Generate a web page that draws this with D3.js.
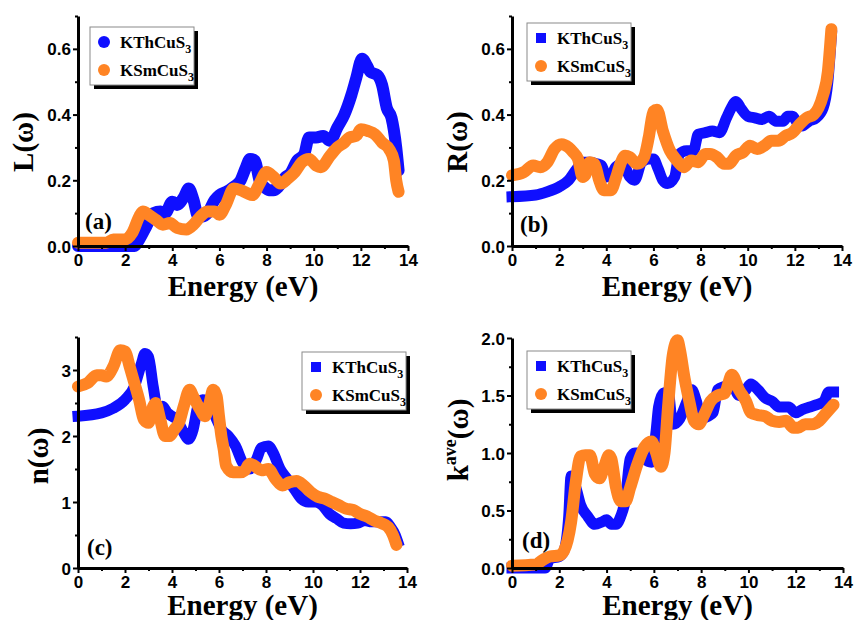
<!DOCTYPE html>
<html>
<head>
<meta charset="utf-8">
<script src="https://cdn.jsdelivr.net/npm/d3@7"></script>
<style>
  body { margin: 0; background: #fff; }
  svg { display: block; }
</style>
</head>
<body>
<svg id="chart" width="855" height="620"></svg>
<script>
const BLUE = '#0f0fff';
const ORANGE = '#ff8424';
const SERIF = '"Liberation Serif", "Times New Roman", serif';
const SANS = '"Liberation Sans", Arial, sans-serif';

const seriesNames = ['KThCuS', 'KSmCuS'];
const energyTicks = [0, 2, 4, 6, 8, 10, 12, 14];

// (a) energy loss L(w)
const lossTh = [[0, 0], [2.0, 0], [2.4, 0], [2.6, 0.02], [2.9, 0.06], [3.2, 0.1], [3.5, 0.105], [3.7, 0.1],
  [4.0, 0.135], [4.2, 0.125], [4.5, 0.15], [4.7, 0.175], [4.9, 0.14], [5.1, 0.09], [5.3, 0.09], [5.5, 0.1],
  [5.8, 0.14], [6.0, 0.155], [6.3, 0.165], [6.6, 0.18], [6.9, 0.2], [7.1, 0.235], [7.3, 0.265], [7.5, 0.26],
  [7.7, 0.2], [7.9, 0.18], [8.1, 0.17], [8.3, 0.17], [8.5, 0.18], [8.8, 0.21], [9.0, 0.22], [9.3, 0.26],
  [9.6, 0.28], [9.8, 0.33], [10.1, 0.33], [10.4, 0.335], [10.7, 0.32], [11.0, 0.36], [11.3, 0.4], [11.6, 0.46],
  [11.8, 0.51], [12.05, 0.57], [12.25, 0.55], [12.4, 0.53], [12.7, 0.52], [12.9, 0.49], [13.1, 0.42],
  [13.3, 0.39], [13.5, 0.3], [13.6, 0.23]];
const lossSm = [[0, 0.01], [1.2, 0.01], [1.5, 0.02], [2.0, 0.02], [2.3, 0.04], [2.6, 0.09], [2.75, 0.105],
  [3.0, 0.095], [3.3, 0.08], [3.6, 0.065], [3.9, 0.07], [4.2, 0.055], [4.6, 0.05], [4.9, 0.065], [5.2, 0.09],
  [5.5, 0.105], [5.8, 0.105], [6.0, 0.095], [6.3, 0.13], [6.6, 0.175], [6.9, 0.17], [7.2, 0.16], [7.4, 0.155],
  [7.7, 0.19], [8.0, 0.225], [8.3, 0.21], [8.6, 0.19], [8.9, 0.205], [9.2, 0.225], [9.5, 0.255], [9.8, 0.265],
  [10.1, 0.245], [10.3, 0.24], [10.7, 0.275], [11.0, 0.3], [11.3, 0.315], [11.5, 0.33], [11.8, 0.335],
  [12.0, 0.355], [12.3, 0.35], [12.6, 0.34], [12.9, 0.315], [13.2, 0.295], [13.4, 0.26], [13.5, 0.2], [13.6, 0.165]];
const lossTicks = [0, 0.2, 0.4, 0.6];

// (b) reflectivity R(w)
const reflTh = [[0, 0.15], [1.0, 0.155], [1.5, 0.165], [2.0, 0.18], [2.4, 0.2], [2.7, 0.23], [3.0, 0.255],
  [3.3, 0.255], [3.6, 0.25], [3.8, 0.245], [4.0, 0.21], [4.2, 0.215], [4.4, 0.24], [4.7, 0.25], [5.0, 0.21],
  [5.2, 0.2], [5.5, 0.255], [5.8, 0.265], [6.0, 0.265], [6.2, 0.235], [6.4, 0.2], [6.6, 0.19], [6.9, 0.21],
  [7.1, 0.28], [7.4, 0.29], [7.7, 0.29], [7.9, 0.34], [8.2, 0.345], [8.5, 0.35], [8.8, 0.345], [9.1, 0.39],
  [9.3, 0.42], [9.5, 0.44], [9.7, 0.42], [10.0, 0.395], [10.3, 0.39], [10.6, 0.385], [10.9, 0.395],
  [11.2, 0.38], [11.5, 0.38], [11.7, 0.395], [11.9, 0.395], [12.1, 0.375], [12.3, 0.365], [12.6, 0.38],
  [12.9, 0.39], [13.2, 0.42], [13.4, 0.5], [13.55, 0.64]];
const reflSm = [[0, 0.215], [0.5, 0.225], [0.9, 0.245], [1.2, 0.24], [1.5, 0.255], [1.8, 0.295], [2.1, 0.31],
  [2.4, 0.3], [2.6, 0.285], [2.8, 0.265], [3.0, 0.21], [3.1, 0.215], [3.3, 0.255], [3.5, 0.25], [3.7, 0.2],
  [3.9, 0.17], [4.2, 0.17], [4.4, 0.205], [4.6, 0.25], [4.8, 0.275], [5.0, 0.27], [5.3, 0.25], [5.6, 0.27],
  [5.8, 0.33], [6.0, 0.41], [6.15, 0.415], [6.4, 0.35], [6.7, 0.29], [7.0, 0.26], [7.3, 0.24], [7.6, 0.26],
  [7.9, 0.255], [8.2, 0.28], [8.4, 0.28], [8.7, 0.27], [9.0, 0.25], [9.2, 0.25], [9.5, 0.275], [9.8, 0.285],
  [10.1, 0.305], [10.4, 0.295], [10.7, 0.305], [11.0, 0.32], [11.3, 0.32], [11.6, 0.335], [11.9, 0.345],
  [12.2, 0.37], [12.5, 0.39], [12.8, 0.4], [13.0, 0.42], [13.2, 0.46], [13.4, 0.53], [13.55, 0.66]];
const reflTicks = [0, 0.2, 0.4, 0.6];

// (c) refractive index n(w)
const indexTh = [[0, 2.3], [1.0, 2.35], [1.5, 2.42], [2.0, 2.55], [2.4, 2.75], [2.7, 3.1], [2.85, 3.25],
  [3.0, 3.2], [3.2, 2.75], [3.4, 2.4], [3.6, 2.45], [3.8, 2.35], [4.0, 2.3], [4.2, 2.25], [4.5, 2.05],
  [4.7, 1.95], [4.9, 2.1], [5.1, 2.45], [5.3, 2.55], [5.6, 2.5], [5.9, 2.25], [6.1, 2.1], [6.4, 2.0],
  [6.7, 1.85], [7.0, 1.6], [7.3, 1.5], [7.6, 1.65], [7.8, 1.82], [8.1, 1.85], [8.3, 1.75], [8.6, 1.5],
  [8.9, 1.35], [9.2, 1.2], [9.5, 1.05], [9.8, 1.0], [10.1, 1.0], [10.4, 0.95], [10.7, 0.82], [11.0, 0.75],
  [11.3, 0.68], [11.6, 0.67], [11.9, 0.68], [12.2, 0.72], [12.5, 0.7], [12.8, 0.7], [13.1, 0.7], [13.3, 0.62],
  [13.5, 0.5], [13.6, 0.4]];
const indexSm = [[0, 2.75], [0.4, 2.8], [0.8, 2.92], [1.0, 2.92], [1.2, 2.9], [1.5, 3.05], [1.8, 3.3],
  [2.0, 3.28], [2.2, 3.05], [2.4, 2.8], [2.6, 2.55], [2.8, 2.25], [3.0, 2.2], [3.2, 2.45], [3.3, 2.5],
  [3.5, 2.25], [3.7, 2.0], [3.9, 2.0], [4.1, 2.1], [4.3, 2.2], [4.5, 2.45], [4.75, 2.7], [4.9, 2.6],
  [5.2, 2.4], [5.4, 2.3], [5.6, 2.5], [5.75, 2.7], [5.9, 2.6], [6.0, 2.3], [6.1, 2.0], [6.2, 1.8],
  [6.3, 1.55], [6.6, 1.45], [6.9, 1.45], [7.1, 1.48], [7.3, 1.58], [7.5, 1.55], [7.8, 1.48], [8.1, 1.5],
  [8.4, 1.35], [8.7, 1.25], [9.0, 1.3], [9.3, 1.32], [9.6, 1.25], [9.9, 1.15], [10.2, 1.08], [10.5, 1.05],
  [10.8, 1.0], [11.1, 0.95], [11.4, 0.9], [11.7, 0.88], [12.0, 0.82], [12.3, 0.78], [12.6, 0.72],
  [12.9, 0.68], [13.2, 0.62], [13.4, 0.5], [13.55, 0.35]];
const indexTicks = [0, 1, 2, 3];

// (d) extinction coefficient k(w)
const extTh = [[0, 0], [1.2, 0], [1.4, 0], [1.6, 0.08], [2.0, 0.1], [2.2, 0.15], [2.4, 0.45], [2.5, 0.8],
  [2.7, 0.7], [2.9, 0.55], [3.2, 0.45], [3.5, 0.38], [3.8, 0.4], [4.0, 0.42], [4.2, 0.38], [4.4, 0.38],
  [4.6, 0.45], [4.8, 0.6], [5.0, 0.95], [5.2, 1.0], [5.4, 1.0], [5.6, 0.95], [5.9, 0.92], [6.1, 1.2],
  [6.2, 1.4], [6.4, 1.52], [6.6, 1.53], [6.8, 1.25], [7.1, 1.3], [7.4, 1.45], [7.6, 1.55], [7.8, 1.45],
  [8.0, 1.3], [8.3, 1.32], [8.5, 1.35], [8.7, 1.55], [9.0, 1.58], [9.3, 1.6], [9.6, 1.5], [9.9, 1.55],
  [10.1, 1.6], [10.4, 1.55], [10.7, 1.48], [11.0, 1.45], [11.3, 1.4], [11.7, 1.4], [12.0, 1.35], [12.3, 1.38],
  [12.6, 1.4], [12.9, 1.42], [13.2, 1.45], [13.4, 1.53], [13.6, 1.53]];
const extSm = [[0, 0.02], [1.0, 0.03], [1.3, 0.07], [1.6, 0.1], [2.0, 0.11], [2.2, 0.15], [2.5, 0.4],
  [2.7, 0.75], [2.9, 0.97], [3.1, 0.98], [3.3, 0.98], [3.5, 0.82], [3.7, 0.78], [3.9, 0.88], [4.1, 0.98],
  [4.2, 0.95], [4.4, 0.7], [4.6, 0.58], [4.8, 0.58], [5.0, 0.7], [5.3, 0.9], [5.6, 1.05], [5.9, 1.1],
  [6.1, 1.0], [6.3, 0.88], [6.45, 1.0], [6.6, 1.4], [6.8, 1.85], [7.0, 1.98], [7.1, 1.9], [7.3, 1.65],
  [7.5, 1.45], [7.7, 1.28], [7.9, 1.25], [8.1, 1.32], [8.4, 1.45], [8.7, 1.5], [9.0, 1.52], [9.3, 1.68],
  [9.6, 1.55], [9.9, 1.45], [10.1, 1.35], [10.4, 1.33], [10.7, 1.32], [11.0, 1.28], [11.3, 1.27],
  [11.6, 1.28], [11.9, 1.22], [12.1, 1.22], [12.4, 1.25], [12.7, 1.25], [13.0, 1.28], [13.3, 1.35], [13.6, 1.42]];
const extTicks = [0, 0.5, 1.0, 1.5, 2.0];

const panels = [
  {
    tag: '(a)', yLabel: 'L', sup: null, series: [lossTh, lossSm], thMarker: 'circle',
    left: 78, right: 408, top: 16, bottom: 246, yMax: 0.7, ticks: lossTicks, minor: 0.1, fmt: '.1f',
    legend: [90, 27], tagPos: [85, 229], yLabelPos: [33, 142], xLabelY: 296,
  },
  {
    tag: '(b)', yLabel: 'R', sup: null, series: [reflTh, reflSm], thMarker: 'square',
    left: 512, right: 842, top: 16, bottom: 246, yMax: 0.7, ticks: reflTicks, minor: 0.1, fmt: '.1f',
    legend: [527, 23], tagPos: [520, 232], yLabelPos: [467, 142], xLabelY: 296,
  },
  {
    tag: '(c)', yLabel: 'n', sup: null, series: [indexTh, indexSm], thMarker: 'square',
    left: 78, right: 407, top: 337, bottom: 568, yMax: 3.5, ticks: indexTicks, minor: 0.5, fmt: 'd',
    legend: [302, 352], tagPos: [87, 555], yLabelPos: [48, 456], xLabelY: 615,
  },
  {
    tag: '(d)', yLabel: 'k', sup: 'ave', series: [extTh, extSm], thMarker: 'square',
    left: 512, right: 843, top: 338, bottom: 568, yMax: 2.0, ticks: extTicks, minor: 0.25, fmt: '.1f',
    legend: [527, 351], tagPos: [522, 548], yLabelPos: [468, 440], xLabelY: 615,
  },
];

const svg = d3.select('#chart');

function drawPanel(p) {
  const x = d3.scaleLinear().domain([0, 14]).range([p.left, p.right]);
  const y = d3.scaleLinear().domain([0, p.yMax]).range([p.bottom, p.top]);
  const g = svg.append('g').attr('class', 'panel');

  const line = d3
    .line()
    .x(d => x(d[0]))
    .y(d => y(d[1]))
    .curve(d3.curveMonotoneX);

  // blue first, orange on top
  p.series.forEach((data, i) => {
    const square = i === 0 && p.thMarker === 'square';
    g.append('path')
      .datum(data)
      .attr('d', line)
      .attr('fill', 'none')
      .attr('stroke', i === 0 ? BLUE : ORANGE)
      .attr('stroke-width', square ? 11 : 12)
      .attr('stroke-linejoin', square ? 'miter' : 'round')
      .attr('stroke-linecap', square ? 'square' : 'round');
  });

  // minor ticks
  const xMinor = d3.range(1, 14, 2);
  const yMinor = d3.range(p.minor, p.yMax + 1e-9, p.minor).filter(v => !p.ticks.some(t => Math.abs(t - v) < 1e-9));

  g.append('g')
    .attr('transform', `translate(0,${p.bottom})`)
    .call(d3.axisBottom(x).tickValues(xMinor).tickSize(3).tickFormat(''))
    .call(a => a.select('.domain').remove())
    .selectAll('line').attr('stroke', '#000').attr('stroke-width', 2);

  g.append('g')
    .attr('transform', `translate(${p.left},0)`)
    .call(d3.axisLeft(y).tickValues(yMinor).tickSize(3).tickFormat(''))
    .call(a => a.select('.domain').remove())
    .selectAll('line').attr('stroke', '#000').attr('stroke-width', 2);

  // major axes
  const xAxis = g.append('g')
    .attr('transform', `translate(0,${p.bottom})`)
    .call(d3.axisBottom(x).tickValues(energyTicks).tickSize(5).tickSizeOuter(0).tickPadding(3));
  const yAxis = g.append('g')
    .attr('transform', `translate(${p.left},0)`)
    .call(d3.axisLeft(y).tickValues(p.ticks).tickFormat(d3.format(p.fmt)).tickSize(5).tickSizeOuter(0).tickPadding(2));

  [xAxis, yAxis].forEach(a => {
    a.select('.domain').attr('stroke', '#000').attr('stroke-width', 3);
    a.selectAll('.tick line').attr('stroke', '#000').attr('stroke-width', 2);
    a.selectAll('.tick text')
      .attr('fill', '#000')
      .style('font-family', SANS)
      .style('font-weight', 'bold')
      .style('font-size', '17px');
  });
  yAxis.selectAll('.tick text').attr('dy', '0.36em');

  // axis titles
  g.append('text')
    .attr('x', (p.left + p.right) / 2)
    .attr('y', p.xLabelY)
    .attr('text-anchor', 'middle')
    .style('font-family', SERIF)
    .style('font-weight', 'bold')
    .style('font-size', '29px')
    .text('Energy (eV)');

  const yl = g.append('text')
    .attr('transform', `translate(${p.yLabelPos[0]},${p.yLabelPos[1]}) rotate(-90)`)
    .attr('text-anchor', 'middle')
    .style('font-family', SERIF)
    .style('font-weight', 'bold')
    .style('font-size', '29px');
  yl.append('tspan').text(p.yLabel);
  if (p.sup) {
    yl.append('tspan').attr('dy', -12).style('font-size', '18px').text(p.sup);
    yl.append('tspan').attr('dy', 12).text('(ω)');
  } else {
    yl.append('tspan').text('(ω)');
  }

  // panel tag
  g.append('text')
    .attr('x', p.tagPos[0])
    .attr('y', p.tagPos[1])
    .style('font-family', SERIF)
    .style('font-weight', 'bold')
    .style('font-size', '23px')
    .text(p.tag);

  drawLegend(g, p);
}

function drawLegend(g, p) {
  const [lx, ly] = p.legend;
  const w = 104;
  const h = 58;
  const leg = g.append('g').attr('transform', `translate(${lx},${ly})`);

  leg.append('rect')
    .attr('x', 4).attr('y', 4).attr('width', w).attr('height', h)
    .attr('fill', '#000');
  leg.append('rect')
    .attr('x', 0).attr('y', 0).attr('width', w).attr('height', h)
    .attr('fill', '#fff').attr('stroke', '#8a8a8a').attr('stroke-width', 1);

  seriesNames.forEach((name, i) => {
    const cy = 15 + i * 28;
    if (i === 0 && p.thMarker === 'square') {
      leg.append('rect')
        .attr('x', 14 - 5).attr('y', cy - 5).attr('width', 10).attr('height', 10)
        .attr('fill', BLUE);
    } else {
      leg.append('circle')
        .attr('cx', 14).attr('cy', cy).attr('r', 6)
        .attr('fill', i === 0 ? BLUE : ORANGE);
    }
    const t = leg.append('text')
      .attr('x', 30)
      .attr('y', cy + 6)
      .style('font-family', SERIF)
      .style('font-weight', 'bold')
      .style('font-size', '17px');
    t.append('tspan').text(name);
    t.append('tspan').attr('dy', 5).style('font-size', '12px').text('3');
  });
}

panels.forEach(drawPanel);
</script>
</body>
</html>
